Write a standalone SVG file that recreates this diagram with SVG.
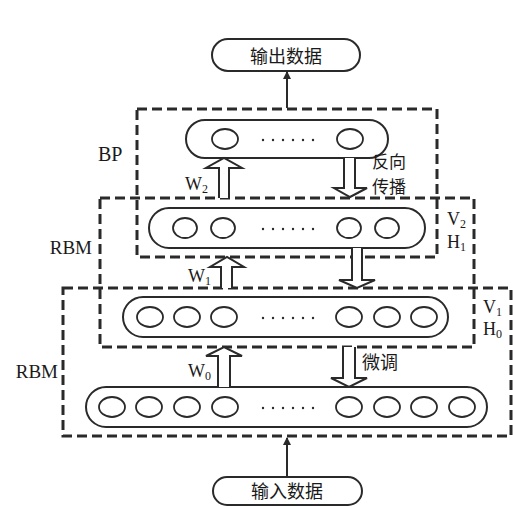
<svg xmlns="http://www.w3.org/2000/svg" width="513" height="506" viewBox="0 0 513 506">
<style>
.box{fill:none;stroke:#2a2a2a;stroke-width:3;stroke-dasharray:10 5}
.cap{fill:#fff;stroke:#2a2a2a;stroke-width:2}
.n{fill:none;stroke:#2a2a2a;stroke-width:1.8}
.dot{fill:#2a2a2a}
.harr{fill:#fff;stroke:#2a2a2a;stroke-width:2;stroke-linejoin:miter}
.ln{stroke:#2a2a2a;stroke-width:2;fill:none}
.lat{font-family:"Liberation Serif","Times New Roman",serif;fill:#1a1a1a}
.cn{font-family:"Noto Sans CJK SC",sans-serif;fill:#1a1a1a;font-size:18px}
</style>
<defs>
<marker id="ah" markerWidth="8" markerHeight="8" refX="7" refY="4" orient="auto" markerUnits="userSpaceOnUse">
<path d="M0,0 L8,4 L0,8 Z" fill="#2a2a2a"/>
</marker>
<g id="dots6">
<circle cx="0" cy="0" r="1.2"/><circle cx="10" cy="0" r="1.2"/><circle cx="20" cy="0" r="1.2"/><circle cx="30" cy="0" r="1.2"/><circle cx="40" cy="0" r="1.2"/><circle cx="50" cy="0" r="1.2"/>
</g>
</defs>

<g id="groups">
<rect id="bp-box" class="box" x="137" y="109" width="300" height="148"/>
<rect id="rbm2-box" class="box" x="100" y="198" width="374" height="149"/>
<rect id="rbm1-box" class="box" x="63" y="288" width="448" height="148"/>
</g>

<g id="output">
<rect class="cap" x="212" y="39" width="148" height="32" rx="16"/>
<text class="cn" x="286" y="63" text-anchor="middle">输出数据</text>
</g>
<g id="input">
<rect class="cap" x="213" y="477" width="149" height="28" rx="14"/>
<text class="cn" x="287" y="498" text-anchor="middle">输入数据</text>
</g>

<g id="layer3">
<rect class="cap" x="186" y="120" width="202" height="38" rx="19"/>
<ellipse class="n" cx="225" cy="139" rx="13" ry="10"/>
<ellipse class="n" cx="350" cy="139" rx="13" ry="10"/>
<use href="#dots6" class="dot" x="263" y="140"/>
</g>
<g id="layer2">
<rect class="cap" x="149" y="208" width="276" height="40" rx="20"/>
<ellipse class="n" cx="185" cy="228" rx="12" ry="10"/>
<ellipse class="n" cx="223" cy="228" rx="12" ry="10"/>
<ellipse class="n" cx="349" cy="228" rx="12" ry="10"/>
<ellipse class="n" cx="387" cy="228" rx="12" ry="10"/>
<use href="#dots6" class="dot" x="263" y="229"/>
</g>
<g id="layer1">
<rect class="cap" x="123" y="297" width="325" height="40" rx="20"/>
<ellipse class="n" cx="150" cy="317" rx="13" ry="10"/>
<ellipse class="n" cx="187" cy="317" rx="13" ry="10"/>
<ellipse class="n" cx="224" cy="317" rx="13" ry="10"/>
<ellipse class="n" cx="349" cy="317" rx="13" ry="10"/>
<ellipse class="n" cx="387" cy="317" rx="13" ry="10"/>
<ellipse class="n" cx="424" cy="317" rx="13" ry="10"/>
<use href="#dots6" class="dot" x="263" y="318"/>
</g>
<g id="layer0">
<rect class="cap" x="86" y="387" width="401" height="40" rx="20"/>
<ellipse class="n" cx="112" cy="407" rx="13" ry="10"/>
<ellipse class="n" cx="149" cy="407" rx="13" ry="10"/>
<ellipse class="n" cx="187" cy="407" rx="13" ry="10"/>
<ellipse class="n" cx="225" cy="407" rx="13" ry="10"/>
<ellipse class="n" cx="349" cy="407" rx="13" ry="10"/>
<ellipse class="n" cx="387" cy="407" rx="13" ry="10"/>
<ellipse class="n" cx="424" cy="407" rx="13" ry="10"/>
<ellipse class="n" cx="462" cy="407" rx="13" ry="10"/>
<use href="#dots6" class="dot" x="263" y="408"/>
</g>

<g id="connectors">
<line class="ln" x1="287" y1="108" x2="287" y2="72" marker-end="url(#ah)"/>
<line class="ln" x1="287" y1="476" x2="287" y2="438" marker-end="url(#ah)"/>
<path class="harr" d="M219,198 L219,168 L206,168 L224,158 L242,168 L229,168 L229,198"/>
<path class="harr" d="M221,288 L221,267 L210,267 L227,257 L244,267 L232,267 L232,288"/>
<path class="harr" d="M218,387 L218,356 L206,356 L224,347 L242,356 L230,356 L230,387"/>
<path class="harr" d="M344,158 L344,188 L334,188 L350,197 L367,188 L355,188 L355,158"/>
<path class="harr" d="M352,248 L352,280 L339,280 L357,288 L375,280 L362,280 L362,248"/>
<path class="harr" d="M343,347 L343,378 L331,378 L349,387 L367,378 L355,378 L355,347"/>
</g>

<g id="labels">
<text class="lat" x="98" y="161" font-size="20">BP</text>
<text class="lat" x="92" y="254" font-size="19" text-anchor="end">RBM</text>
<text class="lat" x="58" y="378" font-size="19" text-anchor="end">RBM</text>
<text class="lat" x="185" y="190" font-size="18">W<tspan font-size="12" dy="3">2</tspan></text>
<text class="lat" x="188" y="282" font-size="18">W<tspan font-size="12" dy="3">1</tspan></text>
<text class="lat" x="188" y="377" font-size="18">W<tspan font-size="12" dy="3">0</tspan></text>
<text class="lat" x="447" y="225" font-size="18">V<tspan font-size="12" dy="3">2</tspan></text>
<text class="lat" x="447" y="248" font-size="18">H<tspan font-size="12" dy="3">1</tspan></text>
<text class="lat" x="483" y="313" font-size="18">V<tspan font-size="12" dy="3">1</tspan></text>
<text class="lat" x="483" y="335" font-size="18">H<tspan font-size="12" dy="3">0</tspan></text>
<text class="cn" x="372" y="168" font-size="17" style="font-size:17px">反向</text>
<text class="cn" x="372" y="193" font-size="17" style="font-size:17px">传播</text>
<text class="cn" x="362" y="369">微调</text>
</g>
</svg>
